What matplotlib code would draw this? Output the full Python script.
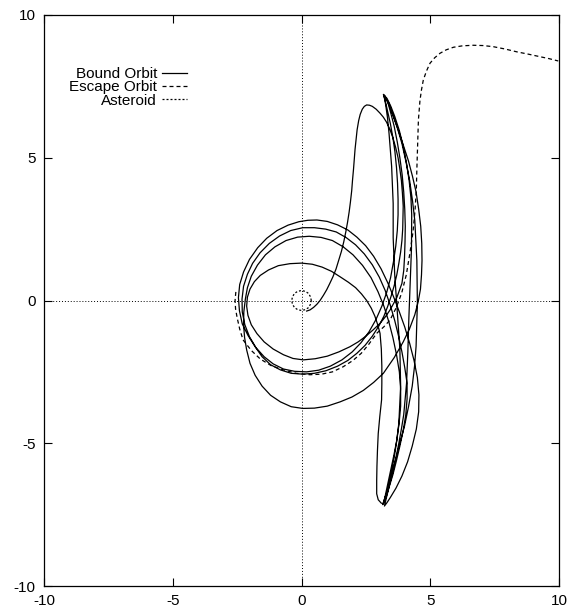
import matplotlib
matplotlib.use('Agg')
import matplotlib.pyplot as plt
import numpy as np

plt.rcParams['font.family'] = ['Liberation Sans', 'DejaVu Sans']
plt.rcParams['axes.unicode_minus'] = False

# bound orbit
spiral = [(0.20, -0.37), (0.33, -0.33), (0.47, -0.24), (0.60, -0.13), (0.72, 0.00), (0.85, 0.18),
          (0.98, 0.38), (1.10, 0.60), (1.22, 0.83), (1.34, 1.10), (1.45, 1.42), (1.55, 1.72),
          (1.64, 2.05), (1.72, 2.40), (1.79, 2.75), (1.85, 3.10), (1.90, 3.45), (1.95, 3.85),
          (1.98, 4.20), (2.02, 4.60), (2.05, 4.95), (2.08, 5.30), (2.12, 5.65), (2.16, 5.98),
          (2.22, 6.30), (2.28, 6.52), (2.36, 6.70), (2.44, 6.80), (2.53, 6.85), (2.64, 6.84),
          (2.75, 6.80), (2.90, 6.70), (3.05, 6.56), (3.18, 6.42), (3.30, 6.25), (3.43, 6.00),
          (3.55, 5.70), (3.66, 5.35), (3.75, 5.00), (3.82, 4.60), (3.88, 4.20), (3.92, 3.75),
          (3.95, 3.30), (3.94, 2.90), (3.93, 2.50), (3.90, 2.10), (3.85, 1.70), (3.78, 1.30),
          (3.70, 0.90), (3.60, 0.52), (3.48, 0.15)]
loop_a = [(3.35, -0.20), (3.20, -0.55), (3.00, -0.90), (2.75, -1.25), (2.47, -1.57), (2.15, -1.85),
          (1.80, -2.10), (1.40, -2.30), (0.95, -2.46), (0.50, -2.55), (0.05, -2.58), (-0.40, -2.55),
          (-0.82, -2.43), (-1.20, -2.25), (-1.53, -1.97), (-1.80, -1.62), (-2.08, -1.22), (-2.30, -0.82),
          (-2.41, -0.36), (-2.45, 0.10), (-2.40, 0.56), (-2.25, 1.00), (-2.02, 1.44), (-1.70, 1.85),
          (-1.35, 2.18), (-0.95, 2.45), (-0.52, 2.64), (-0.10, 2.76), (0.25, 2.81), (0.60, 2.82),
          (1.00, 2.77), (1.40, 2.65), (1.80, 2.47), (2.15, 2.22), (2.49, 1.92), (2.80, 1.55),
          (3.09, 1.11), (3.35, 0.62), (3.58, 0.12), (3.80, -0.40), (4.01, -0.93), (4.20, -1.50),
          (4.37, -2.10), (4.50, -2.70), (4.56, -3.30), (4.55, -3.90), (4.46, -4.50), (4.30, -5.10),
          (4.12, -5.65), (3.90, -6.15), (3.67, -6.57), (3.45, -6.90), (3.32, -7.08), (3.22, -7.20)]
up_1 = [(3.30, -6.90), (3.42, -6.45), (3.55, -6.00), (3.67, -5.50), (3.78, -5.00), (3.88, -4.50),
        (3.97, -4.00), (4.08, -2.90), (4.13, -1.80), (4.17, -0.60), (4.22, 0.60), (4.27, 1.80),
        (4.28, 3.00), (4.25, 3.60), (4.18, 4.20), (4.08, 4.80), (3.95, 5.40), (3.80, 5.95),
        (3.62, 6.45), (3.47, 6.80), (3.32, 7.08), (3.18, 7.22)]
loop_b = [(3.25, 7.00), (3.35, 6.60), (3.45, 6.20), (3.55, 5.70), (3.63, 5.20), (3.69, 4.65),
          (3.73, 4.10), (3.75, 3.55), (3.75, 3.00), (3.72, 2.45), (3.66, 1.90), (3.57, 1.35),
          (3.46, 0.80), (3.31, 0.29), (3.12, -0.20), (2.89, -0.67), (2.62, -1.10), (2.31, -1.48),
          (1.97, -1.80), (1.57, -2.08), (1.12, -2.30), (0.67, -2.44), (0.20, -2.50), (-0.27, -2.48),
          (-0.70, -2.40), (-1.10, -2.22), (-1.45, -1.97), (-1.77, -1.65), (-2.02, -1.27), (-2.20, -0.85),
          (-2.30, -0.40), (-2.31, 0.05), (-2.25, 0.50), (-2.10, 0.92), (-1.90, 1.30), (-1.61, 1.67),
          (-1.25, 2.00), (-0.85, 2.26), (-0.42, 2.45), (0.05, 2.55), (0.50, 2.55), (0.94, 2.50),
          (1.35, 2.40), (1.74, 2.20), (2.10, 1.95), (2.44, 1.63), (2.75, 1.25), (3.02, 0.82),
          (3.25, 0.35), (3.45, -0.17), (3.62, -0.70), (3.77, -1.25), (3.90, -1.80), (4.01, -2.35),
          (4.10, -2.90), (4.10, -3.45), (4.05, -4.00), (3.95, -4.55), (3.82, -5.10), (3.69, -5.60),
          (3.55, -6.10), (3.41, -6.52), (3.28, -6.90), (3.15, -7.15)]
up_2 = [(3.32, -6.70), (3.48, -6.15), (3.65, -5.60), (3.82, -5.00), (4.00, -4.40), (4.16, -3.70),
        (4.30, -3.00), (4.39, -2.30), (4.45, -1.60), (4.50, -0.10), (4.48, 1.40), (4.40, 2.80),
        (4.31, 3.50), (4.20, 4.20), (4.06, 4.85), (3.90, 5.50), (3.73, 6.02), (3.55, 6.50),
        (3.42, 6.80), (3.30, 7.05), (3.22, 7.18)]
big_loop = [(3.40, 6.90), (3.57, 6.45), (3.75, 6.00), (3.95, 5.45), (4.15, 4.90), (4.31, 4.35),
            (4.45, 3.80), (4.55, 3.20), (4.63, 2.60), (4.67, 2.00), (4.68, 1.40), (4.66, 0.90),
            (4.62, 0.40), (4.53, -0.05), (4.40, -0.50), (4.20, -0.98), (3.95, -1.45), (3.60, -2.00),
            (3.18, -2.55), (2.80, -2.87), (2.40, -3.15), (1.96, -3.38), (1.50, -3.55), (1.00, -3.70),
            (0.50, -3.77), (0.05, -3.78), (-0.40, -3.72), (-0.82, -3.55), (-1.20, -3.32), (-1.53, -3.00),
            (-1.80, -2.62), (-2.00, -2.20), (-2.13, -1.73), (-2.21, -1.30), (-2.25, -0.85), (-2.24, -0.40)]
loop_c = [(-2.18, 0.05), (-2.10, 0.45), (-1.95, 0.85), (-1.71, 1.24), (-1.40, 1.60), (-1.03, 1.88),
          (-0.60, 2.10), (-0.15, 2.22), (0.30, 2.25), (0.76, 2.21), (1.20, 2.10), (1.62, 1.88),
          (2.00, 1.60), (2.37, 1.23), (2.70, 0.80), (2.97, 0.31), (3.20, -0.20), (3.39, -0.74),
          (3.55, -1.30), (3.69, -1.90), (3.80, -2.50), (3.85, -3.10), (3.85, -3.70), (3.79, -4.30),
          (3.70, -4.90), (3.58, -5.45), (3.45, -6.00), (3.34, -6.45), (3.25, -6.85), (3.18, -7.12)]
up_3 = [(3.35, -6.60), (3.48, -6.05), (3.60, -5.50), (3.70, -4.90), (3.78, -4.30), (3.85, -3.00),
        (3.82, -1.70), (3.72, -0.40), (3.62, 0.90), (3.56, 2.20), (3.56, 3.40), (3.50, 4.70),
        (3.40, 5.85), (3.34, 6.40), (3.27, 6.85), (3.20, 7.20)]
inner = [(3.35, 6.95), (3.48, 6.52), (3.60, 6.10), (3.72, 5.55), (3.82, 5.00), (3.91, 4.40),
         (3.97, 3.80), (4.01, 3.20), (4.03, 2.60), (4.02, 2.05), (4.00, 1.50), (3.97, 1.05),
         (3.90, 0.60), (3.70, 0.10), (3.44, -0.33), (3.25, -0.58), (3.05, -0.80), (2.78, -1.03),
         (2.50, -1.25), (2.20, -1.45), (1.88, -1.62), (1.45, -1.80), (1.00, -1.95), (0.53, -2.04),
         (0.07, -2.08), (-0.33, -2.03), (-0.70, -1.90), (-1.10, -1.70), (-1.45, -1.45), (-1.73, -1.16),
         (-1.95, -0.85), (-2.08, -0.52), (-2.13, -0.20), (-2.10, 0.12), (-2.00, 0.40), (-1.83, 0.66),
         (-1.60, 0.88), (-1.28, 1.07), (-0.90, 1.22), (-0.45, 1.29), (0.00, 1.31), (0.42, 1.27),
         (0.80, 1.17), (1.17, 1.02), (1.50, 0.83), (1.82, 0.64), (2.10, 0.45), (2.33, 0.23),
         (2.53, 0.00), (2.71, -0.27), (2.85, -0.55), (2.96, -0.85), (3.05, -1.15), (3.10, -1.70),
         (3.12, -2.30), (3.12, -2.90), (3.11, -3.48), (3.04, -4.07), (2.98, -4.66), (2.95, -5.25),
         (2.93, -5.80), (2.92, -6.30), (2.92, -6.77), (2.98, -6.98), (3.10, -7.10)]

escape_x = [-2.55, -2.58, -2.56, -2.50, -2.40, -2.27, -1.95, -1.60, -1.18, -0.71, -0.20, 0.33, 0.78,
            1.20, 1.62, 2.00, 2.32, 2.60, 2.92, 3.20, 3.44, 3.68, 3.89, 4.07, 4.21, 4.33, 4.41, 4.46,
            4.48, 4.51, 4.54, 4.60, 4.66, 4.73, 4.85, 4.99, 5.17, 5.38, 5.62, 5.90, 6.25, 6.67, 7.05,
            7.45, 7.90, 8.36, 8.80, 9.26, 9.62, 9.97]
escape_y = [0.30, 0.00, -0.30, -0.60, -1.00, -1.38, -1.75, -2.05, -2.28, -2.43, -2.55, -2.60, -2.58,
            -2.50, -2.32, -2.10, -1.85, -1.55, -1.15, -0.92, -0.68, -0.25, 0.26, 0.90, 1.66, 2.40, 3.17,
            3.90, 4.60, 5.45, 6.32, 7.00, 7.38, 7.72, 8.03, 8.31, 8.50, 8.66, 8.78, 8.87, 8.92, 8.94,
            8.93, 8.89, 8.81, 8.71, 8.63, 8.54, 8.47, 8.39]

asteroid_x = [0.38, 0.35, 0.27, 0.15, 0.00, -0.15, -0.27, -0.35, -0.38, -0.35, -0.27, -0.15, 0.00,
              0.15, 0.27, 0.35, 0.38]
asteroid_y = [0.00, 0.13, 0.25, 0.32, 0.35, 0.32, 0.25, 0.13, 0.00, -0.13, -0.25, -0.32, -0.35,
              -0.32, -0.25, -0.13, 0.00]

ticks = [-10, -5, 0, 5, 10]

bound = np.array(spiral + loop_a + up_1 + loop_b + up_2 + big_loop + loop_c + up_3 + inner)

fig = plt.figure(figsize=(5.71, 6.10), dpi=100)
ax = fig.add_axes([44 / 571, 24 / 610, 515 / 571, 571 / 610])

ax.axhline(0, color='black', lw=0.7, ls=(0, (1, 2)))
ax.axvline(0, color='black', lw=0.7, ls=(0, (1, 2)))

lw = 0.9
ax.plot(bound[:, 0], bound[:, 1], color='black', lw=lw, label='Bound Orbit')
ax.plot(escape_x, escape_y, color='black', lw=lw, ls=(0, (3.2, 2.4)), label='Escape Orbit')
ax.plot(asteroid_x, asteroid_y, color='black', lw=lw, ls=(0, (1.6, 1.6)), label='Asteroid')

ax.set_xlim(-10, 10)
ax.set_ylim(-10, 10)
ax.set_xticks(ticks)
ax.set_yticks(ticks)
ax.tick_params(direction='in', length=6, width=0.8, top=True, right=True, labelsize=11, pad=6)
for s in ax.spines.values():
    s.set_linewidth(0.9)

# handles on the right, texts end up right-aligned
ax.legend(loc='upper right', bbox_to_anchor=(0.292, 0.922), frameon=False, markerfirst=False,
          fontsize=11, handlelength=1.6, handletextpad=0.35, labelspacing=-0.05, borderpad=0)

fig.savefig('out.png', dpi=100, facecolor='white')
